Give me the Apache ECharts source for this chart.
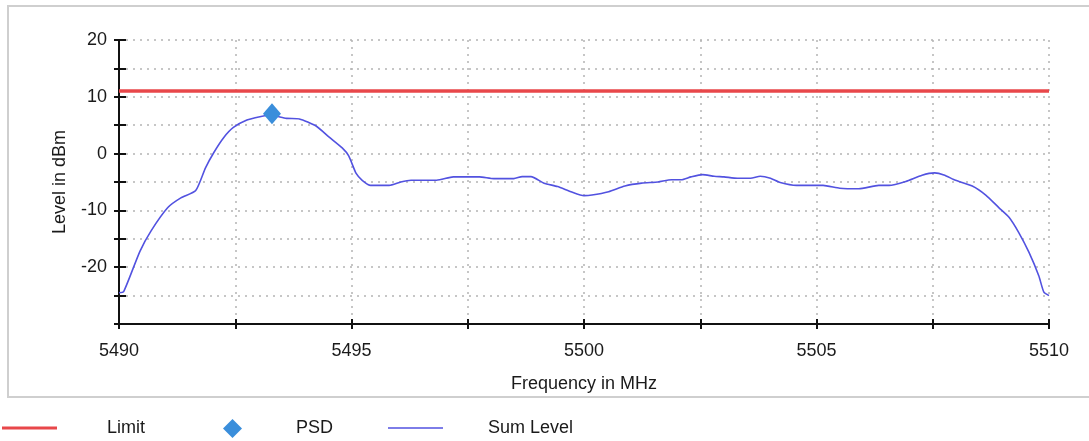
<!DOCTYPE html>
<html>
<head>
<meta charset="utf-8">
<script src="https://cdn.jsdelivr.net/npm/echarts@6/dist/echarts.min.js"></script>
<style>
html,body{margin:0;padding:0;background:#fff;}
#c{width:1089px;height:441px;}
</style>
</head>
<body>
<div id="c"></div>
<script>
// Sum Level trace (frequency MHz, level dBm)
var freqs = [5490.0, 5490.1, 5490.45, 5490.69, 5491.05, 5491.33, 5491.65, 5491.86, 5492.04, 5492.25, 5492.46, 5492.75, 5493.03, 5493.24, 5493.6, 5493.88, 5494.23, 5494.52, 5494.8, 5494.94, 5495.1, 5495.23, 5495.41, 5495.81, 5496.06, 5496.28, 5496.83, 5497.19, 5497.75, 5498.06, 5498.49, 5498.67, 5498.86, 5499.14, 5499.43, 5499.72, 5500.0, 5500.17, 5500.53, 5500.88, 5501.24, 5501.59, 5501.88, 5502.09, 5502.3, 5502.55, 5502.8, 5503.01, 5503.3, 5503.58, 5503.79, 5504.01, 5504.22, 5504.57, 5505.14, 5505.5, 5505.91, 5506.34, 5506.56, 5506.92, 5507.27, 5507.54, 5507.74, 5507.99, 5508.35, 5508.64, 5508.92, 5509.14, 5509.35, 5509.57, 5509.78, 5509.89, 5510.0];
var levels = [-24.5, -24.3, -17.2, -13.6, -9.5, -7.8, -6.5, -2.5, 0.2, 2.8, 4.6, 5.9, 6.5, 6.8, 6.2, 6.1, 4.9, 2.9, 1.0, -0.4, -3.5, -4.7, -5.6, -5.6, -5.0, -4.7, -4.7, -4.1, -4.1, -4.4, -4.4, -4.05, -4.05, -5.2, -5.8, -6.7, -7.4, -7.3, -6.7, -5.7, -5.2, -5.0, -4.6, -4.6, -4.1, -3.7, -4.0, -4.1, -4.35, -4.35, -4.0, -4.35, -5.1, -5.6, -5.6, -6.1, -6.2, -5.6, -5.6, -4.9, -3.8, -3.4, -3.75, -4.7, -5.7, -7.3, -9.5, -11.2, -13.9, -17.4, -21.5, -24.4, -25.0];
// Limit line
var limitFreqs = [5490, 5510];
var limitLevels = [11, 11];
// PSD marker
var psdFreq = [5493.29];
var psdLevel = [7.0];
// axis settings
var xMin = 5490, xMax = 5510, xStep = 2.5;
var yMin = -30, yMax = 20, yStep = 5;

function pairs(xs, ys){ return xs.map(function(x,i){ return [x, ys[i]]; }); }

var FONT = 'Liberation Sans';
var TXT = '#1a1a1a';
var chart = echarts.init(document.getElementById('c'), null, {renderer:'canvas'});

var gridLine = {show:true, lineStyle:{color:'#b4b4b4', type:[2,5], width:1.5}};

chart.setOption({
  animation:false,
  backgroundColor:'#fff',
  textStyle:{fontFamily:FONT},
  graphic:[{
    type:'rect', z:-10, silent:true,
    shape:{x:8, y:6, width:1120, height:391},
    style:{fill:'none', stroke:'#cfcfcf', lineWidth:2}
  }],
  grid:{left:119, right:40, top:40, bottom:117},
  xAxis:[{
    type:'value', min:xMin, max:xMax, interval:xStep,
    name:'Frequency in MHz', nameLocation:'middle', nameGap:51,
    nameTextStyle:{fontSize:18, color:TXT, fontFamily:FONT},
    axisLine:{onZero:false, lineStyle:{color:'#111', width:2}},
    axisTick:{show:true, length:5, lineStyle:{color:'#111', width:2}},
    axisLabel:{fontSize:18, color:TXT, fontFamily:FONT, margin:18,
      formatter:function(v){ return (Math.abs(v % 5) < 1e-6) ? String(v) : ''; }},
    splitLine:gridLine
  },{
    type:'value', min:xMin, max:xMax, interval:xStep, position:'bottom',
    axisLine:{show:true, onZero:false, lineStyle:{color:'#111', width:2}},
    axisTick:{show:true, inside:true, length:5, lineStyle:{color:'#111', width:2}},
    axisLabel:{show:false}, splitLine:{show:false}
  }],
  yAxis:[{
    type:'value', min:yMin, max:yMax, interval:yStep,
    name:'Level in dBm', nameLocation:'middle', nameGap:50, nameRotate:90,
    nameTextStyle:{fontSize:18, color:TXT, fontFamily:FONT},
    axisLine:{show:true, onZero:false, lineStyle:{color:'#111', width:2}},
    axisTick:{show:true, length:5, lineStyle:{color:'#111', width:2}},
    axisLabel:{fontSize:18, color:TXT, fontFamily:FONT, margin:12,
      formatter:function(v){ return (v > yMin && v % 10 === 0) ? String(v) : ''; }},
    splitLine:gridLine
  },{
    type:'value', min:yMin, max:yMax, interval:yStep, position:'left', offset:0,
    axisLine:{show:true, onZero:false, lineStyle:{color:'#111', width:2}},
    axisTick:{show:true, inside:true, length:7, lineStyle:{color:'#111', width:2}},
    axisLabel:{show:false}, splitLine:{show:false}
  }],
  legend:[{
    left:2, top:419, padding:0, itemWidth:55, itemHeight:3, data:[{name:'Limit', icon:'rect'}],
    textStyle:{fontSize:18, color:TXT, fontFamily:FONT, padding:[0,0,0,45]}
  },{
    left:223, top:419, padding:0, itemWidth:19, itemHeight:19, data:[{name:'PSD', icon:'diamond'}],
    textStyle:{fontSize:18, color:TXT, fontFamily:FONT, padding:[0,0,0,49]}
  },{
    left:388, top:419, padding:0, itemWidth:55, itemHeight:1.5, data:[{name:'Sum Level', icon:'rect'}],
    textStyle:{fontSize:18, color:TXT, fontFamily:FONT, padding:[0,0,0,40]}
  }],
  series:[{
    name:'Limit', type:'line', symbol:'none', xAxisIndex:0, yAxisIndex:0,
    data:pairs(limitFreqs, limitLevels),
    lineStyle:{color:'#e8474a', width:3.5}, itemStyle:{color:'#e8474a'}, z:3
  },{
    name:'Sum Level', type:'line', symbol:'none', xAxisIndex:0, yAxisIndex:0,
    data:pairs(freqs, levels), smooth:0.2,
    lineStyle:{color:'#5252e0', width:1.6}, itemStyle:{color:'#5252e0'}, z:4
  },{
    name:'PSD', type:'scatter', symbol:'diamond', symbolSize:[18,21], xAxisIndex:0, yAxisIndex:0,
    data:pairs(psdFreq, psdLevel),
    itemStyle:{color:'#3a8edb', opacity:1}, z:5
  }]
});
</script>
</body>
</html>
